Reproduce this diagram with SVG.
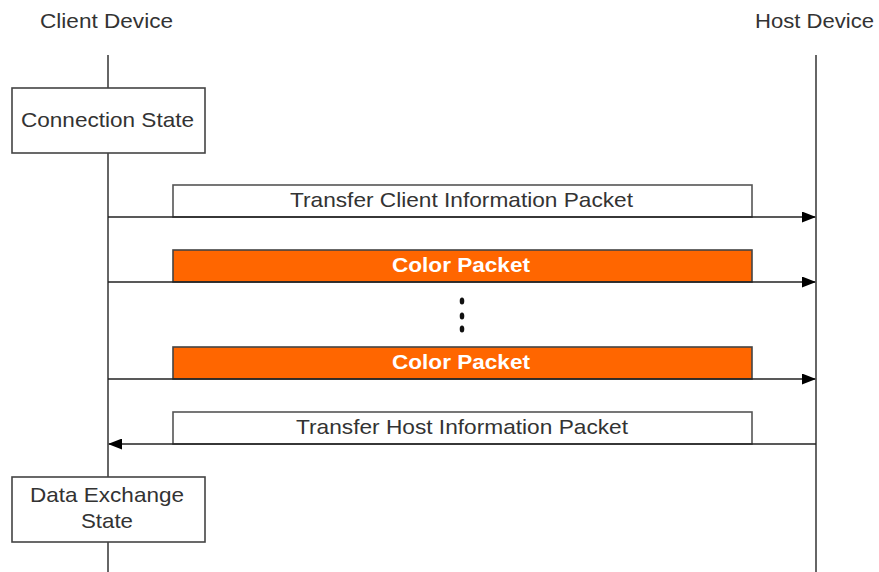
<svg xmlns="http://www.w3.org/2000/svg" width="879" height="572" viewBox="0 0 879 572">
<defs>
<style>
.t{font-family:"Liberation Sans",Arial,sans-serif;font-size:21px;fill:#333;text-anchor:middle}
.w{font-family:"Liberation Sans",Arial,sans-serif;font-size:19.5px;font-weight:bold;fill:#fff;text-anchor:middle}
.life{stroke:#333;stroke-width:1.5;fill:none}
.state{fill:#fff;stroke:#444;stroke-width:1.6}
.pkt{fill:#fff;stroke:#555;stroke-width:1.6}
.opkt{fill:#ff6600;stroke:#444;stroke-width:1.6}
.msg{stroke:#222;stroke-width:1.5;fill:none}
</style>
<marker id="ah" markerWidth="14" markerHeight="11" refX="13" refY="5.5" orient="auto" markerUnits="userSpaceOnUse">
<path d="M0,0 L14,5.5 L0,11 Z" fill="#000"/>
</marker>
</defs>
<rect width="879" height="572" fill="#fff"/>
<g id="client-device">
<text class="t" x="106.5" y="28" textLength="133" lengthAdjust="spacingAndGlyphs">Client Device</text>
<line class="life" x1="108" y1="55" x2="108" y2="572"/>
</g>
<g id="host-device">
<text class="t" x="814.5" y="28" textLength="119" lengthAdjust="spacingAndGlyphs">Host Device</text>
<line class="life" x1="816" y1="55" x2="816" y2="572"/>
</g>
<g id="connection-state">
<rect class="state" x="12" y="88" width="193" height="65"/>
<text class="t" x="107.5" y="127" textLength="173" lengthAdjust="spacingAndGlyphs">Connection State</text>
</g>
<g id="data-exchange-state">
<rect class="state" x="12" y="477" width="193" height="65"/>
<text class="t" x="107" y="502" textLength="154" lengthAdjust="spacingAndGlyphs">Data Exchange</text>
<text class="t" x="107" y="528" textLength="52" lengthAdjust="spacingAndGlyphs">State</text>
</g>
<g id="transfer-client-info">
<rect class="pkt" x="173" y="185" width="579" height="32"/>
<text class="t" x="461.5" y="207" textLength="343" lengthAdjust="spacingAndGlyphs">Transfer Client Information Packet</text>
</g>
<g id="color-packet-1">
<rect class="opkt" x="173" y="250" width="579" height="32"/>
<text class="w" x="461" y="272" textLength="138" lengthAdjust="spacingAndGlyphs">Color Packet</text>
</g>
<g id="ellipsis">
<ellipse cx="462" cy="301" rx="2.3" ry="3.6" fill="#111"/>
<ellipse cx="462" cy="316" rx="2.3" ry="3.6" fill="#111"/>
<ellipse cx="462" cy="329" rx="2.3" ry="3.6" fill="#111"/>
</g>
<g id="color-packet-2">
<rect class="opkt" x="173" y="347" width="579" height="32"/>
<text class="w" x="461" y="369" textLength="138" lengthAdjust="spacingAndGlyphs">Color Packet</text>
</g>
<g id="transfer-host-info">
<rect class="pkt" x="173" y="412" width="579" height="32"/>
<text class="t" x="462" y="434" textLength="332" lengthAdjust="spacingAndGlyphs">Transfer Host Information Packet</text>
</g>
<g id="connectors">
<line class="msg" x1="108" y1="217" x2="815" y2="217" marker-end="url(#ah)"/>
<line class="msg" x1="108" y1="282" x2="815" y2="282" marker-end="url(#ah)"/>
<line class="msg" x1="108" y1="379" x2="815" y2="379" marker-end="url(#ah)"/>
<line class="msg" x1="816" y1="444" x2="109" y2="444" marker-end="url(#ah)"/>
</g>
</svg>
